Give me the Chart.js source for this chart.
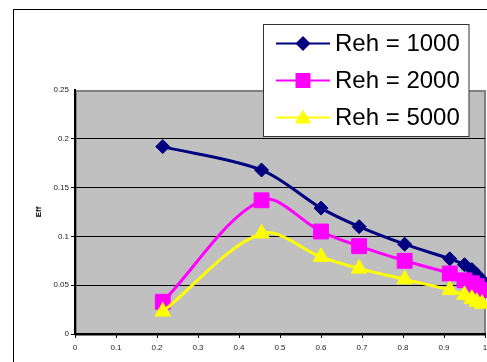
<!DOCTYPE html>
<html>
<head>
<meta charset="utf-8">
<script src="https://cdn.jsdelivr.net/npm/chart.js@4/dist/chart.umd.min.js"></script>
<style>
  html, body { margin: 0; padding: 0; background: #fff; }
  #wrap { width: 487px; height: 362px; position: relative; }
</style>
</head>
<body>
<div id="wrap"><canvas id="effChart" width="487" height="362"></canvas></div>
<script>
// x positions (same for every series)
const xValues = [0.214, 0.455, 0.600, 0.693, 0.804, 0.914, 0.950, 0.968, 0.980, 0.993];
// Eff values
const reh1000 = [0.192, 0.168, 0.129, 0.110, 0.092, 0.077, 0.071, 0.066, 0.061, 0.055];
const reh2000 = [0.033, 0.137, 0.105, 0.090, 0.075, 0.062, 0.055, 0.052, 0.049, 0.045];
const reh5000 = [0.023, 0.103, 0.079, 0.067, 0.056, 0.045, 0.040, 0.036, 0.033, 0.031];
const seriesLabels = ["Reh = 1000", "Reh = 2000", "Reh = 5000"];

function toPoints(ys) {
  return ys.map((y, i) => ({ x: xValues[i], y: y }));
}

// "0.2" au lieu de "0.20", "1" au lieu de "1.0"
function plainNumber(v) {
  return String(Number(v.toFixed(3)));
}

// cadre + fond gris de la zone de tracé
const frame = {
  id: "frame",
  beforeDraw(chart) {
    const ctx = chart.ctx;
    const a = chart.chartArea;
    ctx.save();
    ctx.strokeStyle = "#000";
    ctx.lineWidth = 1;
    ctx.strokeRect(13.5, 9.5, 600, 500);
    ctx.fillStyle = "#c0c0c0";
    ctx.fillRect(a.left, a.top, a.right - a.left, a.bottom - a.top);
    ctx.strokeStyle = "#808080";
    ctx.lineWidth = 2;
    ctx.strokeRect(a.left + 1, a.top + 1, a.right - a.left - 1, a.bottom - a.top);
    ctx.restore();
  }
};

// légende dessinée à la main (elle chevauche la zone de tracé)
function drawMarker(ctx, style, x, y, color) {
  ctx.fillStyle = color;
  ctx.beginPath();
  if (style === "rectRot") {
    const r = 7.5;
    ctx.moveTo(x, y - r); ctx.lineTo(x + r, y); ctx.lineTo(x, y + r); ctx.lineTo(x - r, y);
  } else if (style === "rect") {
    ctx.rect(x - 7.5, y - 7.5, 15, 15);
  } else {
    ctx.moveTo(x, y - 8); ctx.lineTo(x + 8, y + 6); ctx.lineTo(x - 8, y + 6);
  }
  ctx.closePath();
  ctx.fill();
}

const boxLegend = {
  id: "boxLegend",
  afterDraw(chart) {
    const ctx = chart.ctx;
    ctx.save();
    ctx.fillStyle = "#fff";
    ctx.fillRect(263.5, 24.5, 205.5, 112);
    ctx.strokeStyle = "#333";
    ctx.lineWidth = 1;
    ctx.strokeRect(263.5, 24.5, 205.5, 112);
    const rows = [43.5, 80.5, 117.5];
    const byLabel = {};
    chart.data.datasets.forEach((ds) => (byLabel[ds.label] = ds));
    seriesLabels.forEach((lab, i) => {
      const ds = byLabel[lab];
      const y = rows[i];
      ctx.strokeStyle = ds.borderColor;
      ctx.lineWidth = 2;
      ctx.beginPath();
      ctx.moveTo(276, y);
      ctx.lineTo(330, y);
      ctx.stroke();
      drawMarker(ctx, ds.pointStyle, 303, y, ds.borderColor);
      ctx.fillStyle = "#000";
      ctx.font = "24px 'Liberation Sans', Arial, sans-serif";
      ctx.textBaseline = "middle";
      ctx.fillText(lab, 335, y + 1);
    });
    ctx.restore();
  }
};

const tickFont = { family: "'Liberation Sans', Arial, sans-serif", size: 8 };

new Chart(document.getElementById("effChart").getContext("2d"), {
  type: "line",
  data: {
    datasets: [
      {
        label: seriesLabels[0],
        data: toPoints(reh1000),
        borderColor: "#000080",
        backgroundColor: "#000080",
        pointStyle: "rectRot",
        pointRadius: 7,
        order: 3
      },
      {
        label: seriesLabels[1],
        data: toPoints(reh2000),
        borderColor: "#ff00ff",
        backgroundColor: "#ff00ff",
        pointStyle: "rect",
        pointRadius: 10.5,
        order: 2
      },
      {
        label: seriesLabels[2],
        data: toPoints(reh5000),
        borderColor: "#ffff00",
        backgroundColor: "#ffff00",
        pointStyle: "triangle",
        pointRadius: 9,
        order: 1
      }
    ]
  },
  options: {
    responsive: false,
    animation: false,
    datasets: {
      line: {
        borderWidth: 3,
        tension: 0.33,
        pointBorderWidth: 1,
        clip: false
      }
    },
    layout: { autoPadding: false, padding: { left: 30, right: 2, top: 90, bottom: 0 } },
    plugins: {
      legend: { display: false },
      tooltip: { enabled: false }
    },
    scales: {
      x: {
        type: "linear",
        min: 0,
        max: 1,
        ticks: {
          stepSize: 0.1, font: tickFont, color: "#222", padding: 5, maxRotation: 0,
          callback: (v) => plainNumber(v)
        },
        grid: { drawOnChartArea: false, tickLength: 4, color: "#000" },
        border: { color: "#000", width: 2 },
        afterFit(scale) {
          scale.height = 28;
          scale.paddingLeft = 0;
          scale.paddingRight = 0;
        }
      },
      y: {
        min: 0,
        max: 0.25,
        ticks: {
          stepSize: 0.05, font: tickFont, color: "#222", padding: 2,
          callback: (v) => plainNumber(v)
        },
        grid: {
          tickLength: 4,
          color: (c) => (c.tick && c.tick.value === 0.25 ? "rgba(0,0,0,0)" : "#000")
        },
        border: { color: "#000", width: 2 },
        title: {
          display: true,
          text: "Eff",
          font: { family: "'Liberation Sans', Arial, sans-serif", size: 8, weight: "bold" },
          color: "#000"
        },
        afterFit(scale) {
          scale.width = 45;
          scale.paddingTop = 0;
          scale.paddingBottom = 0;
        }
      }
    }
  },
  plugins: [frame, boxLegend]
});
</script>
</body>
</html>
